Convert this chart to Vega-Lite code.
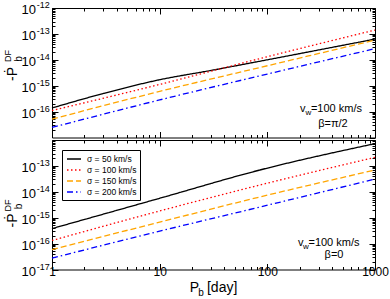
{
  "$schema": "https://vega.github.io/schema/vega-lite/v6.json",
  "padding": {"left": 3, "top": 0, "right": 5, "bottom": 5},
  "config": {
    "font": "Liberation Sans",
    "view": {"stroke": "black", "strokeWidth": 1},
    "axis": {"grid": false, "domain": false, "tickColor": "black", "labelColor": "black", "labelFont": "Liberation Sans", "labelFlush": false, "labelOverlap": false, "tickWidth": 1},
    "axisX": {"labelFontSize": 12, "labelPadding": 3},
    "axisY": {"labelFontSize": 13, "labelPadding": 3},
    "text": {"font": "Liberation Sans", "color": "black"}
  },
  "datasets": {
    "top": [
      {"sigma": "σ = 50 km/s", "P": 1, "val": 1.38e-16},
      {"sigma": "σ = 50 km/s", "P": 3, "val": 5.01e-16},
      {"sigma": "σ = 50 km/s", "P": 10, "val": 1.70e-15},
      {"sigma": "σ = 50 km/s", "P": 30, "val": 3.89e-15},
      {"sigma": "σ = 50 km/s", "P": 100, "val": 1.0e-14},
      {"sigma": "σ = 50 km/s", "P": 300, "val": 2.40e-14},
      {"sigma": "σ = 50 km/s", "P": 1000, "val": 6.31e-14},
      {"sigma": "σ = 100 km/s", "P": 1, "val": 1.10e-16},
      {"sigma": "σ = 100 km/s", "P": 10, "val": 1.12e-15},
      {"sigma": "σ = 100 km/s", "P": 100, "val": 1.32e-14},
      {"sigma": "σ = 100 km/s", "P": 1000, "val": 1.41e-13},
      {"sigma": "σ = 150 km/s", "P": 1, "val": 5.13e-17},
      {"sigma": "σ = 150 km/s", "P": 10, "val": 6.03e-16},
      {"sigma": "σ = 150 km/s", "P": 100, "val": 5.89e-15},
      {"sigma": "σ = 150 km/s", "P": 1000, "val": 5.75e-14},
      {"sigma": "σ = 200 km/s", "P": 1, "val": 2.45e-17},
      {"sigma": "σ = 200 km/s", "P": 10, "val": 2.82e-16},
      {"sigma": "σ = 200 km/s", "P": 100, "val": 2.82e-15},
      {"sigma": "σ = 200 km/s", "P": 1000, "val": 2.69e-14}
    ],
    "bottom": [
      {"sigma": "σ = 50 km/s", "P": 1, "val": 3.80e-16},
      {"sigma": "σ = 50 km/s", "P": 10, "val": 5.62e-15},
      {"sigma": "σ = 50 km/s", "P": 85, "val": 6.92e-14},
      {"sigma": "σ = 50 km/s", "P": 1000, "val": 7.24e-13},
      {"sigma": "σ = 100 km/s", "P": 1, "val": 1.32e-16},
      {"sigma": "σ = 100 km/s", "P": 10, "val": 1.82e-15},
      {"sigma": "σ = 100 km/s", "P": 85, "val": 1.82e-14},
      {"sigma": "σ = 100 km/s", "P": 1000, "val": 2.14e-13},
      {"sigma": "σ = 150 km/s", "P": 1, "val": 5.89e-17},
      {"sigma": "σ = 150 km/s", "P": 10, "val": 6.76e-16},
      {"sigma": "σ = 150 km/s", "P": 85, "val": 6.31e-15},
      {"sigma": "σ = 150 km/s", "P": 1000, "val": 6.92e-14},
      {"sigma": "σ = 200 km/s", "P": 1, "val": 2.75e-17},
      {"sigma": "σ = 200 km/s", "P": 10, "val": 3.02e-16},
      {"sigma": "σ = 200 km/s", "P": 85, "val": 2.57e-15},
      {"sigma": "σ = 200 km/s", "P": 1000, "val": 3.09e-14}
    ],
    "topLabels": [
      {"v": 1e-16, "e": "-16"},
      {"v": 1e-15, "e": "-15"},
      {"v": 1e-14, "e": "-14"},
      {"v": 1e-13, "e": "-13"},
      {"v": 1e-12, "e": "-12"}
    ],
    "bottomLabels": [
      {"v": 1e-17, "e": "-17"},
      {"v": 1e-16, "e": "-16"},
      {"v": 1e-15, "e": "-15"},
      {"v": 1e-14, "e": "-14"},
      {"v": 1e-13, "e": "-13"}
    ]
  },
  "spacing": 0,
  "resolve": {"scale": {"color": "independent", "strokeDash": "independent"}, "legend": {"color": "independent", "strokeDash": "independent"}},
  "vconcat": [
    {
      "width": 323,
      "height": 129.5,
      "resolve": {"axis": {"x": "independent", "y": "independent"}},
      "layer": [
        {
          "data": {"name": "top"},
          "mark": {"type": "line", "strokeWidth": 1.3, "interpolate": "monotone"},
          "encoding": {
            "x": {"field": "P", "type": "quantitative", "scale": {"type": "log", "domain": [1, 1000]}, "axis": {"orient": "bottom", "values": [1, 10, 100, 1000], "labels": false, "tickSize": -6, "title": null}},
            "y": {"field": "val", "type": "quantitative", "scale": {"type": "log", "domain": [1e-17, 1e-12]}, "axis": {"orient": "left", "values": [1e-16, 1e-15, 1e-14, 1e-13, 1e-12], "labels": false, "tickSize": -6, "title": null}},
            "color": {"field": "sigma", "type": "nominal", "scale": {"domain": ["σ = 50 km/s", "σ = 100 km/s", "σ = 150 km/s", "σ = 200 km/s"], "range": ["#000000", "#ff0000", "#ffa500", "#0000ff"]}, "legend": null},
            "strokeDash": {"field": "sigma", "type": "nominal", "scale": {"domain": ["σ = 50 km/s", "σ = 100 km/s", "σ = 150 km/s", "σ = 200 km/s"], "range": [[1, 0], [1.5, 2.5], [6, 3], [6, 3, 1.5, 3]]}, "legend": null}
          }
        },
        {
          "data": {"name": "top"},
          "mark": {"type": "line", "strokeOpacity": 0},
          "encoding": {
            "x": {"field": "P", "type": "quantitative", "scale": {"type": "log", "domain": [1, 1000]}, "axis": {"orient": "bottom", "values": [2, 3, 4, 5, 6, 7, 8, 9, 20, 30, 40, 50, 60, 70, 80, 90, 200, 300, 400, 500, 600, 700, 800, 900], "labels": false, "tickSize": -3, "title": null}},
            "y": {"field": "val", "type": "quantitative", "scale": {"type": "log", "domain": [1e-17, 1e-12]}, "axis": {"orient": "left", "values": [2e-17, 3e-17, 4e-17, 5e-17, 6e-17, 7e-17, 8e-17, 9e-17, 2e-16, 3e-16, 4e-16, 5e-16, 6e-16, 7e-16, 8e-16, 9e-16, 2e-15, 3e-15, 4e-15, 5e-15, 6e-15, 7e-15, 8e-15, 9e-15, 2e-14, 3e-14, 4e-14, 5e-14, 6e-14, 7e-14, 8e-14, 9e-14, 2e-13, 3e-13, 4e-13, 5e-13, 6e-13, 7e-13, 8e-13, 9e-13], "labels": false, "tickSize": -3, "title": null}},
            "detail": {"field": "sigma"}
          }
        },
        {
          "data": {"name": "top"},
          "mark": {"type": "line", "strokeOpacity": 0},
          "encoding": {
            "x": {"field": "P", "type": "quantitative", "scale": {"type": "log", "domain": [1, 1000]}, "axis": {"orient": "top", "values": [1, 10, 100, 1000], "labels": false, "tickSize": -6, "title": null}},
            "y": {"field": "val", "type": "quantitative", "scale": {"type": "log", "domain": [1e-17, 1e-12]}, "axis": {"orient": "right", "values": [1e-17, 1e-16, 1e-15, 1e-14, 1e-13, 1e-12], "labels": false, "tickSize": -6, "title": null}},
            "detail": {"field": "sigma"}
          }
        },
        {
          "data": {"name": "top"},
          "mark": {"type": "line", "strokeOpacity": 0},
          "encoding": {
            "x": {"field": "P", "type": "quantitative", "scale": {"type": "log", "domain": [1, 1000]}, "axis": {"orient": "top", "values": [2, 3, 4, 5, 6, 7, 8, 9, 20, 30, 40, 50, 60, 70, 80, 90, 200, 300, 400, 500, 600, 700, 800, 900], "labels": false, "tickSize": -3, "title": null}},
            "y": {"field": "val", "type": "quantitative", "scale": {"type": "log", "domain": [1e-17, 1e-12]}, "axis": {"orient": "right", "values": [2e-17, 3e-17, 4e-17, 5e-17, 6e-17, 7e-17, 8e-17, 9e-17, 2e-16, 3e-16, 4e-16, 5e-16, 6e-16, 7e-16, 8e-16, 9e-16, 2e-15, 3e-15, 4e-15, 5e-15, 6e-15, 7e-15, 8e-15, 9e-15, 2e-14, 3e-14, 4e-14, 5e-14, 6e-14, 7e-14, 8e-14, 9e-14, 2e-13, 3e-13, 4e-13, 5e-13, 6e-13, 7e-13, 8e-13, 9e-13], "labels": false, "tickSize": -3, "title": null}},
            "detail": {"field": "sigma"}
          }
        },
        {
          "data": {"name": "topLabels"},
          "mark": {"type": "text", "text": "10", "fontSize": 13, "align": "right", "baseline": "middle", "dy": 2},
          "encoding": {"x": {"datum": 0.71, "type": "quantitative", "scale": {"type": "log", "domain": [1, 1000]}, "axis": null}, "y": {"field": "v", "type": "quantitative", "scale": {"type": "log", "domain": [1e-17, 1e-12]}, "axis": null}}
        },
        {
          "data": {"name": "topLabels"},
          "mark": {"type": "text", "fontSize": 9, "align": "left", "baseline": "middle", "dy": -3},
          "encoding": {"x": {"datum": 0.721, "type": "quantitative", "scale": {"type": "log", "domain": [1, 1000]}, "axis": null}, "y": {"field": "v", "type": "quantitative", "scale": {"type": "log", "domain": [1e-17, 1e-12]}, "axis": null}, "text": {"field": "e"}}
        },
        {
          "data": {"values": [{}]},
          "mark": {"type": "text", "text": "-Ṗ", "fontSize": 14, "angle": 270, "align": "center", "baseline": "middle"},
          "encoding": {"x": {"datum": 0.434, "type": "quantitative", "scale": {"type": "log", "domain": [1, 1000]}, "axis": null}, "y": {"datum": 2.83e-15, "type": "quantitative", "scale": {"type": "log", "domain": [1e-17, 1e-12]}, "axis": null}}
        },
        {
          "data": {"values": [{}]},
          "mark": {"type": "text", "text": "b", "fontSize": 10, "angle": 270, "align": "center", "baseline": "middle"},
          "encoding": {"x": {"datum": 0.494, "type": "quantitative", "scale": {"type": "log", "domain": [1, 1000]}, "axis": null}, "y": {"datum": 1.07e-14, "type": "quantitative", "scale": {"type": "log", "domain": [1e-17, 1e-12]}, "axis": null}}
        },
        {
          "data": {"values": [{}]},
          "mark": {"type": "text", "text": "DF", "fontSize": 9, "angle": 270, "align": "center", "baseline": "middle"},
          "encoding": {"x": {"datum": 0.39, "type": "quantitative", "scale": {"type": "log", "domain": [1, 1000]}, "axis": null}, "y": {"datum": 1.4e-14, "type": "quantitative", "scale": {"type": "log", "domain": [1e-17, 1e-12]}, "axis": null}}
        },
        {
          "data": {"values": [{}]},
          "mark": {"type": "text", "text": "v", "fontSize": 11, "align": "left", "baseline": "middle"},
          "encoding": {"x": {"datum": 201, "type": "quantitative", "scale": {"type": "log", "domain": [1, 1000]}, "axis": null}, "y": {"datum": 1.26e-16, "type": "quantitative", "scale": {"type": "log", "domain": [1e-17, 1e-12]}, "axis": null}}
        },
        {
          "data": {"values": [{}]},
          "mark": {"type": "text", "text": "w", "fontSize": 8, "align": "left", "baseline": "middle"},
          "encoding": {"x": {"datum": 226, "type": "quantitative", "scale": {"type": "log", "domain": [1, 1000]}, "axis": null}, "y": {"datum": 8.45e-17, "type": "quantitative", "scale": {"type": "log", "domain": [1e-17, 1e-12]}, "axis": null}}
        },
        {
          "data": {"values": [{}]},
          "mark": {"type": "text", "text": "=100 km/s", "fontSize": 11, "align": "left", "baseline": "middle"},
          "encoding": {"x": {"datum": 254, "type": "quantitative", "scale": {"type": "log", "domain": [1, 1000]}, "axis": null}, "y": {"datum": 1.26e-16, "type": "quantitative", "scale": {"type": "log", "domain": [1e-17, 1e-12]}, "axis": null}}
        },
        {
          "data": {"values": [{}]},
          "mark": {"type": "text", "text": "β=π/2", "fontSize": 11, "align": "center", "baseline": "middle"},
          "encoding": {"x": {"datum": 407, "type": "quantitative", "scale": {"type": "log", "domain": [1, 1000]}, "axis": null}, "y": {"datum": 3.32e-17, "type": "quantitative", "scale": {"type": "log", "domain": [1e-17, 1e-12]}, "axis": null}}
        }
      ]
    },
    {
      "width": 323,
      "height": 129.5,
      "resolve": {"axis": {"x": "independent", "y": "independent"}},
      "layer": [
        {
          "data": {"name": "bottom"},
          "mark": {"type": "line", "strokeWidth": 1.3, "interpolate": "monotone"},
          "encoding": {
            "x": {"field": "P", "type": "quantitative", "scale": {"type": "log", "domain": [1, 1000]}, "axis": {"orient": "bottom", "values": [1, 10, 100, 1000], "format": "d", "tickSize": -6, "title": null}},
            "y": {"field": "val", "type": "quantitative", "scale": {"type": "log", "domain": [1e-17, 1e-12]}, "axis": {"orient": "left", "values": [1e-17, 1e-16, 1e-15, 1e-14, 1e-13], "labels": false, "tickSize": -6, "title": null}},
            "color": {"field": "sigma", "type": "nominal", "scale": {"domain": ["σ = 50 km/s", "σ = 100 km/s", "σ = 150 km/s", "σ = 200 km/s"], "range": ["#000000", "#ff0000", "#ffa500", "#0000ff"]}, "legend": {"title": null, "orient": "top-left", "offset": 9.5, "padding": 3, "strokeColor": "black", "fillColor": "white", "labelFontSize": 8.5, "labelFont": "Liberation Sans", "symbolType": "M-1.4,0H1.4", "symbolSize": 100, "symbolStrokeWidth": 1.5, "symbolOffset": 3, "rowPadding": -1.5, "labelOffset": 7}},
            "strokeDash": {"field": "sigma", "type": "nominal", "scale": {"domain": ["σ = 50 km/s", "σ = 100 km/s", "σ = 150 km/s", "σ = 200 km/s"], "range": [[1, 0], [1.5, 2.5], [6, 3], [6, 3, 1.5, 3]]}, "legend": {"title": null, "orient": "top-left", "offset": 9.5, "padding": 3, "strokeColor": "black", "fillColor": "white", "labelFontSize": 8.5, "labelFont": "Liberation Sans", "symbolType": "M-1.4,0H1.4", "symbolSize": 100, "symbolStrokeWidth": 1.5, "symbolOffset": 3, "rowPadding": -1.5, "labelOffset": 7}}
          }
        },
        {
          "data": {"name": "bottom"},
          "mark": {"type": "line", "strokeOpacity": 0},
          "encoding": {
            "x": {"field": "P", "type": "quantitative", "scale": {"type": "log", "domain": [1, 1000]}, "axis": {"orient": "bottom", "values": [2, 3, 4, 5, 6, 7, 8, 9, 20, 30, 40, 50, 60, 70, 80, 90, 200, 300, 400, 500, 600, 700, 800, 900], "labels": false, "tickSize": -3, "title": null}},
            "y": {"field": "val", "type": "quantitative", "scale": {"type": "log", "domain": [1e-17, 1e-12]}, "axis": {"orient": "left", "values": [2e-17, 3e-17, 4e-17, 5e-17, 6e-17, 7e-17, 8e-17, 9e-17, 2e-16, 3e-16, 4e-16, 5e-16, 6e-16, 7e-16, 8e-16, 9e-16, 2e-15, 3e-15, 4e-15, 5e-15, 6e-15, 7e-15, 8e-15, 9e-15, 2e-14, 3e-14, 4e-14, 5e-14, 6e-14, 7e-14, 8e-14, 9e-14, 2e-13, 3e-13, 4e-13, 5e-13, 6e-13, 7e-13, 8e-13, 9e-13], "labels": false, "tickSize": -3, "title": null}},
            "detail": {"field": "sigma"}
          }
        },
        {
          "data": {"name": "bottom"},
          "mark": {"type": "line", "strokeOpacity": 0},
          "encoding": {
            "x": {"field": "P", "type": "quantitative", "scale": {"type": "log", "domain": [1, 1000]}, "axis": {"orient": "top", "values": [1, 10, 100, 1000], "labels": false, "tickSize": -6, "title": null}},
            "y": {"field": "val", "type": "quantitative", "scale": {"type": "log", "domain": [1e-17, 1e-12]}, "axis": {"orient": "right", "values": [1e-17, 1e-16, 1e-15, 1e-14, 1e-13, 1e-12], "labels": false, "tickSize": -6, "title": null}},
            "detail": {"field": "sigma"}
          }
        },
        {
          "data": {"name": "bottom"},
          "mark": {"type": "line", "strokeOpacity": 0},
          "encoding": {
            "x": {"field": "P", "type": "quantitative", "scale": {"type": "log", "domain": [1, 1000]}, "axis": {"orient": "top", "values": [2, 3, 4, 5, 6, 7, 8, 9, 20, 30, 40, 50, 60, 70, 80, 90, 200, 300, 400, 500, 600, 700, 800, 900], "labels": false, "tickSize": -3, "title": null}},
            "y": {"field": "val", "type": "quantitative", "scale": {"type": "log", "domain": [1e-17, 1e-12]}, "axis": {"orient": "right", "values": [2e-17, 3e-17, 4e-17, 5e-17, 6e-17, 7e-17, 8e-17, 9e-17, 2e-16, 3e-16, 4e-16, 5e-16, 6e-16, 7e-16, 8e-16, 9e-16, 2e-15, 3e-15, 4e-15, 5e-15, 6e-15, 7e-15, 8e-15, 9e-15, 2e-14, 3e-14, 4e-14, 5e-14, 6e-14, 7e-14, 8e-14, 9e-14, 2e-13, 3e-13, 4e-13, 5e-13, 6e-13, 7e-13, 8e-13, 9e-13], "labels": false, "tickSize": -3, "title": null}},
            "detail": {"field": "sigma"}
          }
        },
        {
          "data": {"name": "bottomLabels"},
          "mark": {"type": "text", "text": "10", "fontSize": 13, "align": "right", "baseline": "middle", "dy": 2},
          "encoding": {"x": {"datum": 0.71, "type": "quantitative", "scale": {"type": "log", "domain": [1, 1000]}, "axis": null}, "y": {"field": "v", "type": "quantitative", "scale": {"type": "log", "domain": [1e-17, 1e-12]}, "axis": null}}
        },
        {
          "data": {"name": "bottomLabels"},
          "mark": {"type": "text", "fontSize": 9, "align": "left", "baseline": "middle", "dy": -3},
          "encoding": {"x": {"datum": 0.721, "type": "quantitative", "scale": {"type": "log", "domain": [1, 1000]}, "axis": null}, "y": {"field": "v", "type": "quantitative", "scale": {"type": "log", "domain": [1e-17, 1e-12]}, "axis": null}, "text": {"field": "e"}}
        },
        {
          "data": {"values": [{}]},
          "mark": {"type": "text", "text": "-Ṗ", "fontSize": 14, "angle": 270, "align": "center", "baseline": "middle"},
          "encoding": {"x": {"datum": 0.434, "type": "quantitative", "scale": {"type": "log", "domain": [1, 1000]}, "axis": null}, "y": {"datum": 7.8e-16, "type": "quantitative", "scale": {"type": "log", "domain": [1e-17, 1e-12]}, "axis": null}}
        },
        {
          "data": {"values": [{}]},
          "mark": {"type": "text", "text": "b", "fontSize": 10, "angle": 270, "align": "center", "baseline": "middle"},
          "encoding": {"x": {"datum": 0.494, "type": "quantitative", "scale": {"type": "log", "domain": [1, 1000]}, "axis": null}, "y": {"datum": 2.7e-15, "type": "quantitative", "scale": {"type": "log", "domain": [1e-17, 1e-12]}, "axis": null}}
        },
        {
          "data": {"values": [{}]},
          "mark": {"type": "text", "text": "DF", "fontSize": 9, "angle": 270, "align": "center", "baseline": "middle"},
          "encoding": {"x": {"datum": 0.39, "type": "quantitative", "scale": {"type": "log", "domain": [1, 1000]}, "axis": null}, "y": {"datum": 2.96e-15, "type": "quantitative", "scale": {"type": "log", "domain": [1e-17, 1e-12]}, "axis": null}}
        },
        {
          "data": {"values": [{}]},
          "mark": {"type": "text", "text": "v", "fontSize": 11, "align": "left", "baseline": "middle"},
          "encoding": {"x": {"datum": 193, "type": "quantitative", "scale": {"type": "log", "domain": [1, 1000]}, "axis": null}, "y": {"datum": 1.1e-16, "type": "quantitative", "scale": {"type": "log", "domain": [1e-17, 1e-12]}, "axis": null}}
        },
        {
          "data": {"values": [{}]},
          "mark": {"type": "text", "text": "w", "fontSize": 8, "align": "left", "baseline": "middle"},
          "encoding": {"x": {"datum": 214, "type": "quantitative", "scale": {"type": "log", "domain": [1, 1000]}, "axis": null}, "y": {"datum": 7.4e-17, "type": "quantitative", "scale": {"type": "log", "domain": [1e-17, 1e-12]}, "axis": null}}
        },
        {
          "data": {"values": [{}]},
          "mark": {"type": "text", "text": "=100 km/s", "fontSize": 11, "align": "left", "baseline": "middle"},
          "encoding": {"x": {"datum": 241, "type": "quantitative", "scale": {"type": "log", "domain": [1, 1000]}, "axis": null}, "y": {"datum": 1.1e-16, "type": "quantitative", "scale": {"type": "log", "domain": [1e-17, 1e-12]}, "axis": null}}
        },
        {
          "data": {"values": [{}]},
          "mark": {"type": "text", "text": "β=0", "fontSize": 11, "align": "center", "baseline": "middle"},
          "encoding": {"x": {"datum": 416, "type": "quantitative", "scale": {"type": "log", "domain": [1, 1000]}, "axis": null}, "y": {"datum": 3.7e-17, "type": "quantitative", "scale": {"type": "log", "domain": [1e-17, 1e-12]}, "axis": null}}
        },
        {
          "data": {"values": [{}]},
          "mark": {"type": "text", "text": "P", "fontSize": 14, "align": "left", "baseline": "middle"},
          "encoding": {"x": {"datum": 19.0, "type": "quantitative", "scale": {"type": "log", "domain": [1, 1000]}, "axis": null}, "y": {"datum": 1.85e-18, "type": "quantitative", "scale": {"type": "log", "domain": [1e-17, 1e-12]}, "axis": null}}
        },
        {
          "data": {"values": [{}]},
          "mark": {"type": "text", "text": "b", "fontSize": 10, "align": "left", "baseline": "middle"},
          "encoding": {"x": {"datum": 22.8, "type": "quantitative", "scale": {"type": "log", "domain": [1, 1000]}, "axis": null}, "y": {"datum": 1.29e-18, "type": "quantitative", "scale": {"type": "log", "domain": [1e-17, 1e-12]}, "axis": null}}
        },
        {
          "data": {"values": [{}]},
          "mark": {"type": "text", "text": "[day]", "fontSize": 14, "align": "left", "baseline": "middle"},
          "encoding": {"x": {"datum": 27.5, "type": "quantitative", "scale": {"type": "log", "domain": [1, 1000]}, "axis": null}, "y": {"datum": 1.85e-18, "type": "quantitative", "scale": {"type": "log", "domain": [1e-17, 1e-12]}, "axis": null}}
        }
      ]
    }
  ]
}
